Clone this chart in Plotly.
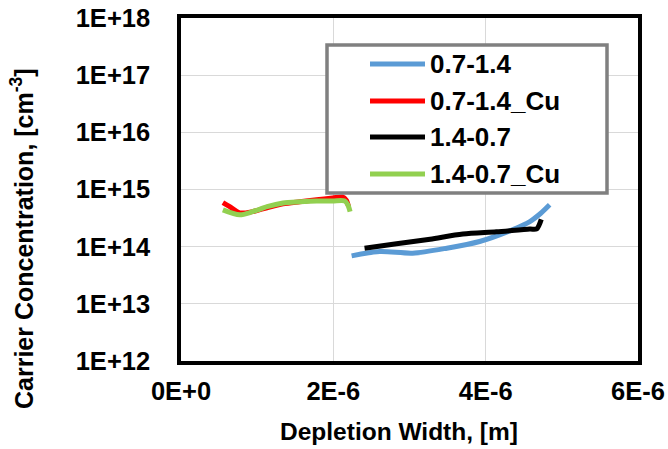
import plotly.graph_objects as go

# ---- data (x in metres, y in cm^-3) ----
x_07_14 = [2.24e-6, 2.61e-6, 3.04e-6, 3.49e-6, 3.92e-6, 4.35e-6, 4.58e-6, 4.72e-6, 4.84e-6]
y_07_14 = [6.9e13, 8.2e13, 7.7e13, 9.4e13, 1.23e14, 1.97e14, 2.75e14, 3.8e14, 5.4e14]

x_07_14_cu = [0.55e-6, 0.64e-6, 0.77e-6, 0.94e-6, 1.13e-6, 1.34e-6, 1.56e-6, 1.78e-6, 1.99e-6, 2.12e-6, 2.17e-6, 2.20e-6]
y_07_14_cu = [5.9e14, 5.0e14, 3.9e14, 4.1e14, 4.8e14, 5.6e14, 6.1e14, 6.6e14, 7.1e14, 7.4e14, 6.5e14, 5.0e14]

x_14_07 = [2.41e-6, 2.83e-6, 3.27e-6, 3.70e-6, 4.14e-6, 4.58e-6, 4.67e-6, 4.73e-6]
y_14_07 = [9.4e13, 1.12e14, 1.35e14, 1.66e14, 1.82e14, 2.03e14, 2.05e14, 3.0e14]

x_14_07_cu = [0.55e-6, 0.77e-6, 0.94e-6, 1.13e-6, 1.34e-6, 1.56e-6, 1.78e-6, 1.99e-6, 2.15e-6, 2.19e-6, 2.22e-6]
y_14_07_cu = [4.4e14, 3.6e14, 4.1e14, 5.0e14, 5.8e14, 6.1e14, 6.3e14, 6.3e14, 6.3e14, 5.4e14, 4.1e14]

series_names = ["0.7-1.4", "0.7-1.4_Cu", "1.4-0.7", "1.4-0.7_Cu"]
series_colors = ["#5B9BD5", "#FF0000", "#000000", "#92D050"]

x_tickvals = [0, 2e-6, 4e-6, 6e-6]
x_ticktext = ["0E+0", "2E-6", "4E-6", "6E-6"]
y_tickvals = [1e12, 1e13, 1e14, 1e15, 1e16, 1e17, 1e18]
y_ticktext = ["1E+12", "1E+13", "1E+14", "1E+15", "1E+16", "1E+17", "1E+18"]

FONT = "Liberation Sans, Arial, sans-serif"

fig = go.Figure()
xs = [x_07_14, x_07_14_cu, x_14_07, x_14_07_cu]
ys = [y_07_14, y_07_14_cu, y_14_07, y_14_07_cu]
for name, color, x, y in zip(series_names, series_colors, xs, ys):
    fig.add_trace(go.Scatter(x=x, y=y, name=name, mode="lines",
                             line=dict(color=color, width=5, shape="spline", smoothing=0.8),
                             showlegend=False))

W, H = 668, 449
L, R, T, B = 181, 30, 18, 88
pw, ph = W - L - R, H - T - B

def px(xp):
    return (xp - L) / pw

def py(yp):
    return (H - B - yp) / ph

fig.update_layout(
    width=W, height=H,
    margin=dict(l=L, r=R, t=T, b=B, autoexpand=False),
    paper_bgcolor="white", plot_bgcolor="white",
    font=dict(family=FONT, color="black"),
)
fig.update_xaxes(
    range=[0, 6e-6], tickvals=x_tickvals, ticktext=x_ticktext,
    showgrid=True, gridcolor="#D9D9D9", gridwidth=1, zeroline=False,
    showline=True, linecolor="black", linewidth=3.5, mirror=True,
    ticks="", ticklabelstandoff=5, automargin=False,
    tickfont=dict(family=FONT, size=25.5, weight="bold"),
)
fig.update_yaxes(
    type="log", range=[12, 18], tickvals=y_tickvals, ticktext=y_ticktext,
    showgrid=True, gridcolor="#D9D9D9", gridwidth=1, zeroline=False,
    showline=True, linecolor="black", linewidth=3.5, mirror=True,
    ticks="", ticklabelstandoff=22, automargin=False,
    tickfont=dict(family=FONT, size=25.5, weight="bold"),
)

# axis titles
fig.add_annotation(
    text="Depletion Width, [m]",
    xref="paper", yref="paper", x=px(399), y=py(432), xanchor="center", yanchor="middle",
    showarrow=False, font=dict(family=FONT, size=24.5, weight="bold", color="black"),
)
fig.add_annotation(
    text="Carrier Concentration, [cm<sup>-3</sup>]", textangle=-90,
    xref="paper", yref="paper", x=px(22), y=py(239), xanchor="center", yanchor="middle",
    showarrow=False, font=dict(family=FONT, size=25, weight="bold", color="black"),
)

# legend box
fig.add_shape(type="rect", xref="paper", yref="paper",
              x0=px(327), x1=px(607), y0=py(193), y1=py(45),
              line=dict(color="#808080", width=3.5), fillcolor="white", layer="above")
rows = [64, 101, 137, 174]
for name, color, ry in zip(series_names, series_colors, rows):
    fig.add_shape(type="line", xref="paper", yref="paper",
                  x0=px(370), x1=px(425), y0=py(ry), y1=py(ry),
                  line=dict(color=color, width=5), layer="above")
    fig.add_annotation(text=name, xref="paper", yref="paper", x=px(428), y=py(ry),
                       xanchor="left", yanchor="middle", showarrow=False,
                       font=dict(family=FONT, size=26, weight="bold", color="black"))

fig.write_html("out.html", config={"displayModeBar": False},
               post_script="document.body.style.margin='0px';")
